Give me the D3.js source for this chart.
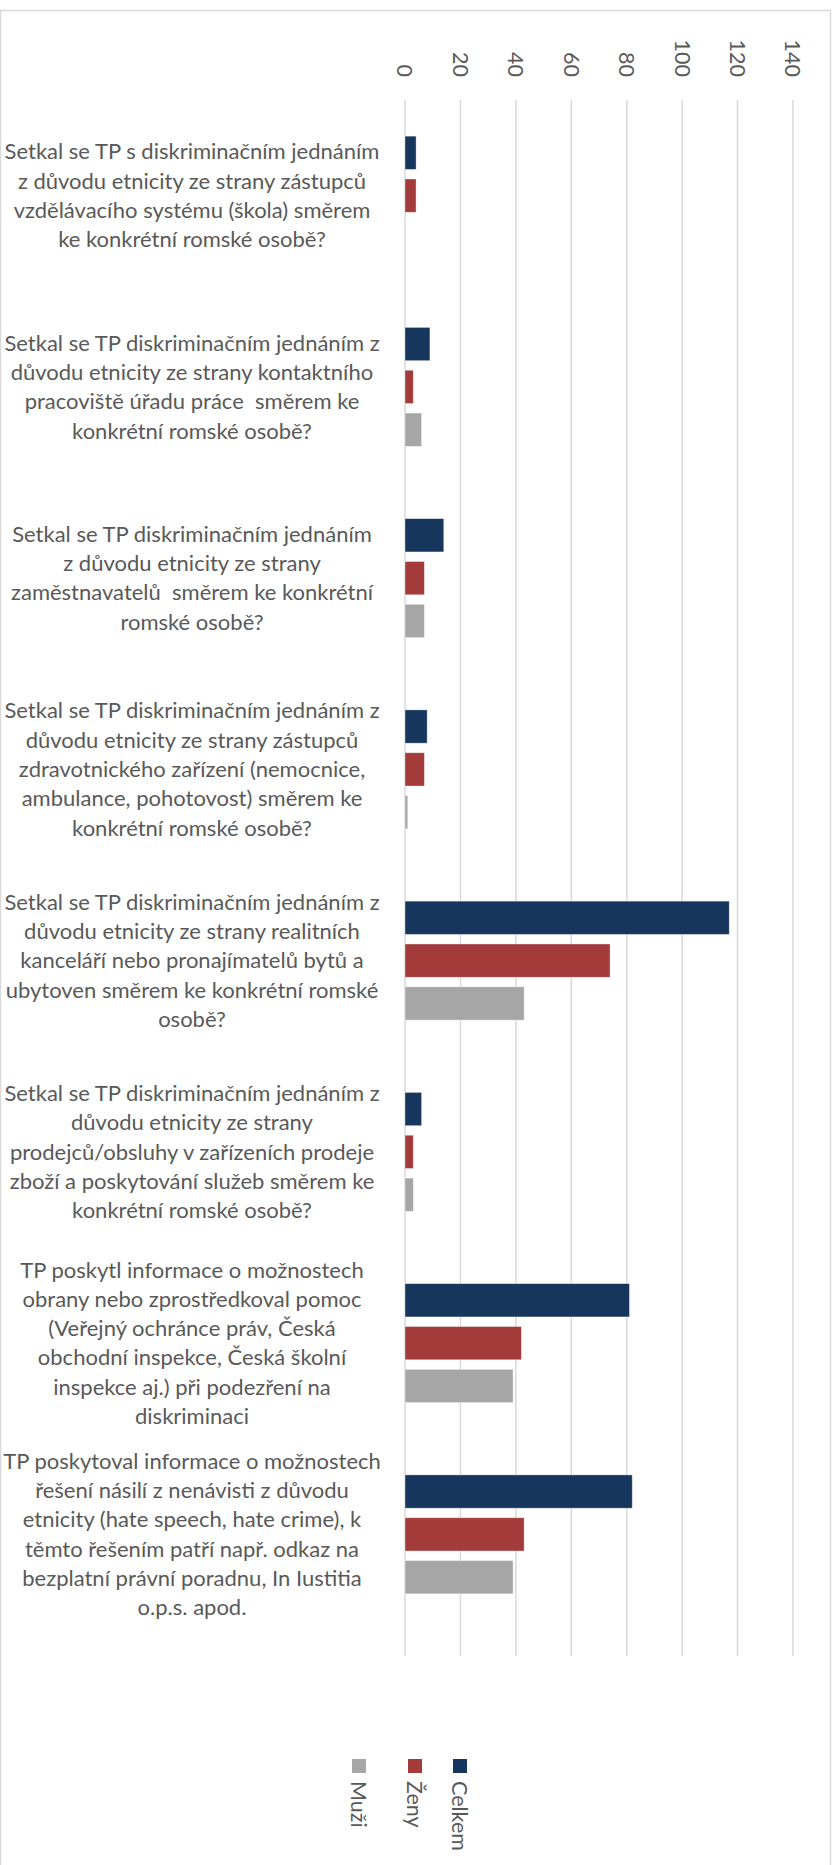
<!DOCTYPE html>
<html>
<head>
<meta charset="utf-8">
<script src="https://cdn.jsdelivr.net/npm/d3@7"></script>
<style>
  html, body { margin: 0; padding: 0; background: #fff; }
  svg { display: block; }
  text { font-family: Lato, "Open Sans", sans-serif; fill: #595959; white-space: pre; }
</style>
</head>
<body>
<svg id="chart" width="837" height="1865"></svg>
<script>
// ---- data ----
const categories = [
  ["Setkal se TP s diskriminačním jednáním", "z důvodu etnicity ze strany zástupců", "vzdělávacího systému (škola) směrem", "ke konkrétní romské osobě?"],
  ["Setkal se TP diskriminačním jednáním z", "důvodu etnicity ze strany kontaktního", "pracoviště úřadu práce  směrem ke", "konkrétní romské osobě?"],
  ["Setkal se TP diskriminačním jednáním", "z důvodu etnicity ze strany", "zaměstnavatelů  směrem ke konkrétní", "romské osobě?"],
  ["Setkal se TP diskriminačním jednáním z", "důvodu etnicity ze strany zástupců", "zdravotnického zařízení (nemocnice,", "ambulance, pohotovost) směrem ke", "konkrétní romské osobě?"],
  ["Setkal se TP diskriminačním jednáním z", "důvodu etnicity ze strany realitních", "kanceláří nebo pronajímatelů bytů a", "ubytoven směrem ke konkrétní romské", "osobě?"],
  ["Setkal se TP diskriminačním jednáním z", "důvodu etnicity ze strany", "prodejců/obsluhy v zařízeních prodeje", "zboží a poskytování služeb směrem ke", "konkrétní romské osobě?"],
  ["TP poskytl informace o možnostech", "obrany nebo zprostředkoval pomoc", "(Veřejný ochránce práv, Česká", "obchodní inspekce, Česká školní", "inspekce aj.) při podezření na", "diskriminaci"],
  ["TP poskytoval informace o možnostech", "řešení násilí z nenávisti z důvodu", "etnicity (hate speech, hate crime), k", "těmto řešením patří např. odkaz na", "bezplatní právní poradnu, In Iustitia", "o.p.s. apod."]
];
const seriesNames = ["Celkem", "Ženy", "Muži"];
const celkem = [4, 9, 14, 8, 117, 6, 81, 82];
const zeny   = [4, 3, 7, 7, 74, 3, 42, 43];
const muzi   = [0, 6, 7, 1, 43, 3, 39, 39];
const tickValues = [0, 20, 40, 60, 80, 100, 120, 140];
const colors = ["#17365d", "#a33b3b", "#a6a6a6"];

// ---- drawing ----
const svg = d3.select("#chart");
const seriesValues = [celkem, zeny, muzi];

// chart border
svg.append("path")
  .attr("d", "M0.5,1865 V10.5 H830.5 V1865")
  .attr("fill", "none").attr("stroke", "#d9d9d9").attr("stroke-width", 1.5);

const x = d3.scaleLinear().domain([0, 140]).range([405, 793]);
const idx = d3.range(categories.length);
const y0 = d3.scaleBand().domain(idx).range([100, 1630]).padding(0);
const groupH = 119;
const y1 = d3.scaleBand().domain(seriesNames).range([0, groupH]).paddingInner(0.222).paddingOuter(0);

// gridlines
svg.append("g").selectAll("line").data(tickValues).join("line")
  .attr("x1", d => x(d)).attr("x2", d => x(d))
  .attr("y1", 100).attr("y2", 1656)
  .attr("stroke", "#d9d9d9").attr("stroke-width", 1.5);

// tick labels (rotated)
svg.append("g").selectAll("text").data(tickValues).join("text")
  .attr("transform", d => `translate(${x(d)},77) rotate(90)`)
  .attr("text-anchor", "end")
  .attr("dy", "0.35em")
  .attr("font-size", 21.5)
  .text(d => d);

// bars
const groups = svg.append("g").selectAll("g").data(idx).join("g")
  .attr("transform", i => `translate(0,${y0(i) + (y0.bandwidth() - groupH) / 2})`);
groups.selectAll("rect")
  .data(i => seriesNames.map((s, k) => ({ s, k, v: seriesValues[k][i] })))
  .join("rect")
  .filter(d => d.v > 0)
  .attr("x", x(0))
  .attr("y", d => y1(d.s))
  .attr("width", d => x(d.v) - x(0))
  .attr("height", y1.bandwidth())
  .attr("fill", d => colors[d.k])
  .attr("stroke", "#ffffff").attr("stroke-opacity", 0.5).attr("stroke-width", 0.8);

// category labels
const lineH = 29.3;
const labels = svg.append("g").selectAll("text").data(idx).join("text")
  .attr("text-anchor", "middle")
  .attr("font-size", 22);
labels.each(function (i) {
  const lines = categories[i];
  const cy = y0(i) + y0.bandwidth() / 2;
  const startY = cy - (lines.length - 1) * lineH / 2;
  d3.select(this).selectAll("tspan").data(lines).join("tspan")
    .attr("x", 192)
    .attr("y", (d, j) => startY + j * lineH)
    .attr("dy", "0.35em")
    .text(d => d);
});

// legend (rotated)
const legendX = [460, 415, 359];
const legend = svg.append("g").selectAll("g").data(seriesNames).join("g")
  .attr("transform", (d, k) => `translate(${legendX[k]},0)`);
legend.append("rect")
  .attr("x", -7).attr("y", 1759).attr("width", 14).attr("height", 14)
  .attr("fill", (d, k) => colors[k]);
legend.append("text")
  .attr("transform", "translate(0,1781) rotate(90)")
  .attr("text-anchor", "start")
  .attr("dy", "0.35em")
  .attr("font-size", 21.5)
  .text(d => d);
</script>
</body>
</html>
